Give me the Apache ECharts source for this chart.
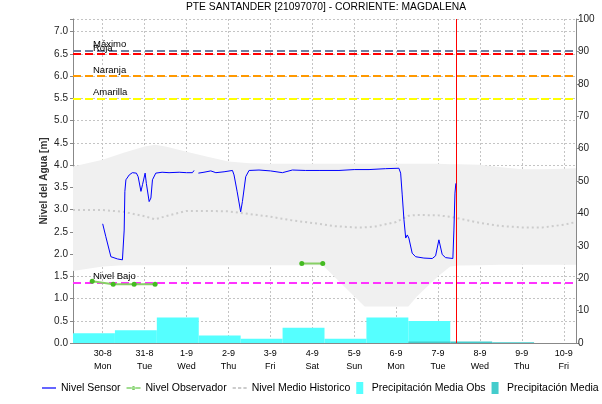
<!DOCTYPE html>
<html>
<head>
<meta charset="utf-8">
<script src="https://cdn.jsdelivr.net/npm/echarts@6/dist/echarts.min.js"></script>
<style>
  html, body { margin: 0; padding: 0; background: #ffffff; }
  #chart { width: 602px; height: 404px; }
</style>
</head>
<body>
<div id="chart"></div>
<script>
const FONT = '"Liberation Sans", Arial, sans-serif';

// Axis range (local time)
const axisStart = '2021-08-29 07:00';
const axisEnd = '2021-09-10 07:00';
const nowTime = '2021-09-07 10:36';
const weekdayNames = ['Sun', 'Mon', 'Tue', 'Wed', 'Thu', 'Fri', 'Sat'];

// Nivel Sensor [m]
const sensorTimes = [
  '2021-08-30 00:00', '2021-08-30 01:48', '2021-08-30 04:42', '2021-08-30 05:36', '2021-08-30 08:30',
  '2021-08-30 11:18', '2021-08-30 11:54', '2021-08-30 12:18', '2021-08-30 12:42', '2021-08-30 13:18',
  '2021-08-30 15:12', '2021-08-30 17:00', '2021-08-30 19:18', '2021-08-30 20:18', '2021-08-30 21:54',
  '2021-08-30 22:48', '2021-08-31 00:18', '2021-08-31 01:00', '2021-08-31 02:36', '2021-08-31 03:36',
  '2021-08-31 04:30', '2021-08-31 06:24', '2021-08-31 10:00', '2021-08-31 14:00', '2021-08-31 19:48',
  '2021-09-01 00:00', '2021-09-01 03:24', '2021-09-01 04:18', '2021-09-01 05:00', '2021-09-01 06:48',
  '2021-09-01 10:00', '2021-09-01 13:54', '2021-09-01 16:48', '2021-09-01 21:30', '2021-09-02 02:18',
  '2021-09-02 03:12', '2021-09-02 05:00', '2021-09-02 07:00', '2021-09-02 08:00', '2021-09-02 09:54',
  '2021-09-02 11:48', '2021-09-02 17:30', '2021-09-03 00:00', '2021-09-03 06:54', '2021-09-03 12:36',
  '2021-09-03 20:00', '2021-09-04 03:54', '2021-09-04 15:18', '2021-09-05 00:00', '2021-09-05 08:30',
  '2021-09-05 18:00', '2021-09-06 01:36', '2021-09-06 02:36', '2021-09-06 03:30', '2021-09-06 04:30',
  '2021-09-06 05:30', '2021-09-06 06:24', '2021-09-06 07:18', '2021-09-06 09:12', '2021-09-06 11:12',
  '2021-09-06 15:54', '2021-09-06 20:42', '2021-09-06 22:36', '2021-09-07 00:30', '2021-09-07 02:24',
  '2021-09-07 04:18', '2021-09-07 08:30', '2021-09-07 09:06', '2021-09-07 09:42', '2021-09-07 10:12'
];
const sensorLevels = [
  2.68, 2.39, 1.94, 1.91, 1.89,
  1.87, 1.90, 2.54, 3.41, 3.67,
  3.78, 3.83, 3.82, 3.74, 3.41,
  3.56, 3.82, 3.59, 3.18, 3.26,
  3.67, 3.82, 3.84, 3.83, 3.84,
  3.83, 3.83, 3.88, null, 3.82,
  3.84, 3.87, 3.83, 3.85, 3.88,
  3.78, 3.40, 2.95, 3.18, 3.74,
  3.88, 3.89, 3.87, 3.83, 3.89,
  3.88, 3.88, 3.88, 3.90, 3.90,
  3.92, 3.93, 3.82, 3.33, 2.77,
  2.36, 2.43, 2.36, 2.02, 1.94,
  1.91, 1.90, 1.96, 2.32, 1.99,
  1.92, 1.90, 2.54, 3.37, 3.59
];

// Nivel Observador [m]
const observerTimes = ['2021-08-29 18:00', '2021-08-30 06:00', '2021-08-30 18:00', '2021-08-31 06:00',
  '2021-09-02 00:00', '2021-09-03 18:00', '2021-09-04 06:00'];
const observerLevels = [1.39, 1.32, 1.32, 1.32, null, 1.79, 1.79];

// Historical statistics [m]
const histTimes = ['2021-08-29 07:00', '2021-08-30 00:00', '2021-08-30 12:00', '2021-08-31 00:00',
  '2021-08-31 06:00', '2021-08-31 12:00', '2021-09-01 00:00', '2021-09-01 12:00', '2021-09-02 00:00',
  '2021-09-02 12:00', '2021-09-03 00:00', '2021-09-03 12:00', '2021-09-04 00:00', '2021-09-04 06:00',
  '2021-09-04 12:00', '2021-09-05 00:00', '2021-09-05 06:00', '2021-09-05 12:00', '2021-09-06 00:00',
  '2021-09-06 07:00', '2021-09-06 12:00', '2021-09-07 00:00', '2021-09-07 07:00', '2021-09-07 12:00',
  '2021-09-08 00:00', '2021-09-08 12:00', '2021-09-09 00:00', '2021-09-09 12:00', '2021-09-10 00:00',
  '2021-09-10 07:00'];
const histMin = [1.62, 1.72, 1.75, 1.75, 1.75, 1.75, 1.75, 1.75, 1.75,
  1.75, 1.75, 1.75, 1.75, 1.75, 1.52, 1.05, 0.82, 0.82, 0.82,
  0.82, 1.05, 1.50, 1.72, 1.74, 1.75, 1.76, 1.76, 1.76, 1.76, 1.76];
const histMax = [3.97, 4.12, 4.28, 4.42, 4.46, 4.42, 4.30, 4.19, 4.08,
  4.04, 4.03, 4.03, 4.03, 4.03, 4.03, 4.03, 4.03, 4.03, 4.03,
  4.03, 4.03, 4.03, 4.02, 4.02, 4.01, 3.95, 3.91, 3.91, 3.92, 3.93];
const histMedian = [2.99, 2.99, 2.95, 2.85, 2.78, 2.85, 2.97, 2.97, 2.96,
  2.90, 2.84, 2.76, 2.70, 2.67, 2.63, 2.60, 2.60, 2.62, 2.72,
  2.86, 2.88, 2.87, 2.84, 2.80, 2.70, 2.63, 2.60, 2.60, 2.66, 2.72];

// Daily precipitation (07:00 to 07:00) [mm]
const precipObsDays = ['2021-08-29', '2021-08-30', '2021-08-31', '2021-09-01', '2021-09-02',
  '2021-09-03', '2021-09-04', '2021-09-05', '2021-09-06'];
const precipObs = [3.0, 3.9, 7.9, 2.3, 1.3, 4.7, 1.3, 7.9, 6.8];
const precipFcstDays = ['2021-09-06', '2021-09-07', '2021-09-08'];
const precipFcst = [0.5, 0.5, 0.2];

// Alert thresholds [m]
const thresholdNames = ['Máximo', 'Roja', 'Naranja', 'Amarilla', 'Nivel Bajo'];
const thresholdLevels = [6.57, 6.50, 6.00, 5.50, 1.36];
const thresholdColors = ['#6f7f9f', '#ff0000', '#ff9900', '#ffff00', '#ff33ff'];

const HOUR = 3600 * 1000;
const DAY = 24 * HOUR;
function toMs(s) { return new Date(s.replace(' ', 'T')).getTime(); }
function pairs(times, vals) { return times.map((t, i) => [t, vals[i]]); }
function dayBars(days, vals) {
  return days.map((d, i) => {
    const start = toMs(d + ' 07:00');
    return [start, start + DAY, vals[i]];
  });
}
function barRenderer(color) {
  return function (params, api) {
    const p0 = api.coord([api.value(0), api.value(2)]);
    const p1 = api.coord([api.value(1), 0]);
    return {
      type: 'rect',
      shape: { x: p0[0], y: p0[1], width: p1[0] - p0[0], height: p1[1] - p0[1] },
      style: { fill: color }
    };
  };
}

// Legend glyphs
const ICON_LINE = 'path://M0,0h15v1.3h-15z';
const ICON_LINE_DOT = 'path://M0,3.4h15v1.2h-15z M5.5,4a2,2 0 1,0 4,0a2,2 0 1,0 -4,0z';
const ICON_DOTTED = 'path://M0,0h3v2h-3z M5,0h3v2h-3z M10,0h3v2h-3z';
const ICON_BLOCK = 'path://M0,0h7v12h-7z';

const chart = echarts.init(document.getElementById('chart'), null, { renderer: 'canvas' });

const option = {
  animation: false,
  backgroundColor: '#ffffff',
  textStyle: { fontFamily: FONT },
  title: {
    text: 'PTE SANTANDER [21097070] - CORRIENTE: MAGDALENA',
    left: 326, top: 2, padding: 0, textAlign: 'center',
    textStyle: { fontFamily: FONT, fontSize: 10.3, fontWeight: 'normal', color: '#000' }
  },
  legend: {
    left: 42, top: 382, padding: 0, width: 900, itemGap: 6, itemWidth: 14, itemHeight: 12,
    textStyle: { fontFamily: FONT, fontSize: 10.5, color: '#000' },
    data: [
      { name: 'Nivel Sensor', icon: ICON_LINE },
      { name: 'Nivel Observador', icon: ICON_LINE_DOT },
      { name: 'Nivel Medio Historico', icon: ICON_DOTTED },
      { name: 'Precipitación Media Obs', icon: ICON_BLOCK },
      { name: 'Precipitación Media Pronosticada', icon: ICON_BLOCK }
    ]
  },
  grid: { left: 73, right: 26, top: 19, bottom: 61, containLabel: false },
  xAxis: [{
    type: 'time',
    min: axisStart, max: axisEnd,
    minInterval: DAY, maxInterval: DAY,
    axisLine: { lineStyle: { color: '#555', type: [1, 1] } },
    axisTick: { show: false },
    axisLabel: {
      fontFamily: FONT, fontSize: 9, color: '#000', margin: 4, lineHeight: 13,
      hideOverlap: false,
      formatter: function (v) {
        const d = new Date(v);
        if (d.getHours() !== 0 || d.getMinutes() !== 0) return '';
        return d.getDate() + '-' + (d.getMonth() + 1) + '\n' + weekdayNames[d.getDay()];
      }
    },
    splitLine: { show: true, lineStyle: { color: '#c4c4c4', type: [2, 2], width: 1 } }
  }, {
    type: 'time', position: 'top',
    min: axisStart, max: axisEnd,
    axisLine: { lineStyle: { color: '#888', width: 1 } },
    axisTick: { show: false }, axisLabel: { show: false }, splitLine: { show: false }
  }],
  yAxis: [{
    type: 'value', min: 0, max: 7.286, interval: 0.5,
    name: 'Nivel del Agua [m]', nameLocation: 'middle', nameGap: 23.5, nameMoveOverlap: false,
    nameTextStyle: { fontFamily: FONT, fontSize: 10, fontWeight: 'bold', color: '#333' },
    axisLine: { show: true, lineStyle: { color: '#888' } },
    axisTick: { show: true, length: 3, lineStyle: { color: '#888' } },
    axisLabel: {
      fontFamily: FONT, fontSize: 10, color: '#222', margin: 5,
      formatter: function (v) {
        return Math.abs(v * 2 - Math.round(v * 2)) < 1e-6 ? v.toFixed(1) : '';
      }
    },
    splitLine: { show: true, lineStyle: { color: '#c4c4c4', type: [2, 2], width: 1 } }
  }, {
    type: 'value', min: 0, max: 100, interval: 10, position: 'right',
    axisLine: { show: true, lineStyle: { color: '#888' } },
    axisTick: { show: true, length: 3, lineStyle: { color: '#888' } },
    axisLabel: { fontFamily: FONT, fontSize: 10, color: '#222', margin: 2 },
    splitLine: { show: false }
  }],
  series: [
    {
      name: 'hist-min', type: 'line', stack: 'hist', symbol: 'none', silent: true,
      lineStyle: { width: 0, opacity: 0 },
      data: pairs(histTimes, histMin), z: 1
    },
    {
      name: 'hist-range', type: 'line', stack: 'hist', symbol: 'none', silent: true,
      lineStyle: { width: 0, opacity: 0 },
      areaStyle: { color: '#f0f0f0', opacity: 1 },
      data: pairs(histTimes, histMax.map((v, i) => +(v - histMin[i]).toFixed(3))), z: 1
    },
    {
      name: 'Precipitación Media Obs', type: 'custom', yAxisIndex: 1,
      itemStyle: { color: '#55ffff' },
      renderItem: barRenderer('#55ffff'),
      encode: { x: [0, 1], y: 2 },
      data: dayBars(precipObsDays, precipObs), z: 2
    },
    {
      name: 'Precipitación Media Pronosticada', type: 'custom', yAxisIndex: 1,
      itemStyle: { color: '#44cccc' },
      renderItem: barRenderer('#44cccc'),
      encode: { x: [0, 1], y: 2 },
      data: dayBars(precipFcstDays, precipFcst), z: 3
    },
    {
      name: 'Nivel Medio Historico', type: 'line', symbol: 'none',
      itemStyle: { color: '#cccccc' },
      lineStyle: { color: '#cccccc', width: 2, type: [2, 3] },
      data: pairs(histTimes, histMedian), z: 3
    },
    {
      name: 'thresholds', type: 'line', data: [], z: 4,
      markLine: {
        silent: true, symbol: 'none',
        data: thresholdLevels.map((v, i) => ({
          yAxis: v,
          lineStyle: { color: thresholdColors[i], width: 2, type: [8, 4] },
          label: {
            show: true, formatter: thresholdNames[i], position: 'insideStartTop',
            distance: [20, 1], color: '#000', fontFamily: FONT, fontSize: 9.5
          }
        }))
      }
    },
    {
      name: 'Nivel Sensor', type: 'line', symbol: 'none', connectNulls: false,
      itemStyle: { color: '#0000ff' },
      lineStyle: { color: '#0000ff', width: 1 },
      data: pairs(sensorTimes, sensorLevels), z: 5
    },
    {
      name: 'Nivel Observador', type: 'line', symbol: 'circle', symbolSize: 5, connectNulls: false,
      itemStyle: { color: '#44bb22' },
      lineStyle: { color: '#88d066', width: 2 },
      data: pairs(observerTimes, observerLevels), z: 6
    },
    {
      name: 'now', type: 'line', data: [], z: 7,
      markLine: {
        silent: true, symbol: 'none', label: { show: false },
        lineStyle: { color: '#ff0000', width: 1, type: 'solid' },
        data: [{ xAxis: nowTime }]
      }
    }
  ]
};

chart.setOption(option);
</script>
</body>
</html>
